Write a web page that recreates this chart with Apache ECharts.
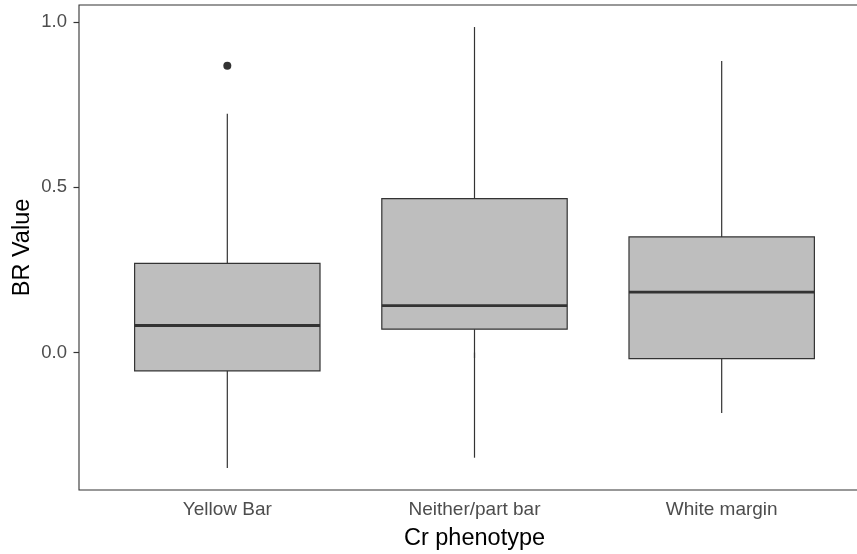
<!DOCTYPE html>
<html>
<head>
<meta charset="utf-8">
<script src="https://cdn.jsdelivr.net/npm/echarts@6/dist/echarts.min.js"></script>
<style>
html,body{margin:0;padding:0;background:#fff;}
#chart{width:857px;height:554px;}
</style>
</head>
<body>
<div id="chart"></div>
<script>
const categories = ['Yellow Bar', 'Neither/part bar', 'White margin'];
const lowerWhisker = [-0.349, -0.318, -0.183];
const q1Values = [-0.055, 0.071, -0.018];
const medianValues = [0.082, 0.142, 0.183];
const q3Values = [0.270, 0.466, 0.350];
const upperWhisker = [0.723, 0.985, 0.882];
const outliers = [[1, 0.868]];
const yTicks = [0.0, 0.5, 1.0];
const xTitle = 'Cr phenotype';
const yTitle = 'BR Value';

const chart = echarts.init(document.getElementById('chart'), null, {renderer: 'canvas'});
const FONT = 'Liberation Sans, Arial, sans-serif';

const boxData = categories.map((c, i) => [i + 1, lowerWhisker[i], q1Values[i], medianValues[i], q3Values[i], upperWhisker[i]]);

const option = {
  backgroundColor: '#ffffff',
  animation: false,
  grid: {
    left: 79, top: 5, width: 791, height: 485,
    outerBoundsMode: 'none', containLabel: false,
    show: true, borderColor: '#333333', borderWidth: 1.1, backgroundColor: '#ffffff'
  },
  graphic: [{
    type: 'text',
    x: 23, y: 247.5,
    rotation: Math.PI / 2,
    style: {
      text: yTitle, fontSize: 23.5, fontFamily: FONT, fill: '#000000',
      align: 'center', verticalAlign: 'middle'
    }
  }],
  xAxis: {
    type: 'value', min: 0.4, max: 3.6,
    splitLine: {show: false},
    axisLine: {show: false},
    axisTick: {show: true, customValues: [1, 2, 3], length: 5.5, lineStyle: {color: '#333333', width: 1.2}},
    axisLabel: {
      customValues: [1, 2, 3], margin: 10, fontSize: 19, color: '#4d4d4d', fontFamily: FONT,
      formatter: v => categories[Math.round(v) - 1] || ''
    },
    name: xTitle, nameLocation: 'middle', nameGap: 37,
    nameTextStyle: {fontSize: 23.5, color: '#000000', fontFamily: FONT}
  },
  yAxis: {
    type: 'value', min: -0.4157, max: 1.0517,
    splitLine: {show: false},
    axisLine: {show: false},
    axisTick: {show: true, customValues: yTicks, length: 5.5, lineStyle: {color: '#333333', width: 1.2}},
    axisLabel: {
      customValues: yTicks, margin: 12, fontSize: 18.5, color: '#4d4d4d', fontFamily: FONT,
      formatter: v => v.toFixed(1)
    }
  },
  series: [
    {
      type: 'custom',
      data: boxData,
      encode: {x: 0, y: [1, 2, 3, 4, 5]},
      renderItem: function (params, api) {
        const x = api.value(0);
        const half = 0.375;
        const pLow = api.coord([x, api.value(1)]);
        const pQ1 = api.coord([x, api.value(2)]);
        const pMed = api.coord([x, api.value(3)]);
        const pQ3 = api.coord([x, api.value(4)]);
        const pHigh = api.coord([x, api.value(5)]);
        const left = api.coord([x - half, api.value(3)])[0];
        const right = api.coord([x + half, api.value(3)])[0];
        const stroke = '#333333';
        return {
          type: 'group',
          children: [
            {type: 'line', shape: {x1: pHigh[0], y1: pHigh[1], x2: pQ3[0], y2: pQ3[1]}, style: {stroke: stroke, lineWidth: 1.2}},
            {type: 'line', shape: {x1: pQ1[0], y1: pQ1[1], x2: pLow[0], y2: pLow[1]}, style: {stroke: stroke, lineWidth: 1.2}},
            {type: 'rect', shape: {x: left, y: pQ3[1], width: right - left, height: pQ1[1] - pQ3[1]}, style: {fill: '#bebebe', stroke: stroke, lineWidth: 1.2}},
            {type: 'line', shape: {x1: left, y1: pMed[1], x2: right, y2: pMed[1]}, style: {stroke: stroke, lineWidth: 2.8}}
          ]
        };
      }
    },
    {
      type: 'scatter',
      data: outliers,
      symbol: 'circle',
      symbolSize: 8,
      itemStyle: {color: '#333333', opacity: 1}
    }
  ]
};
chart.setOption(option);
</script>
</body>
</html>
